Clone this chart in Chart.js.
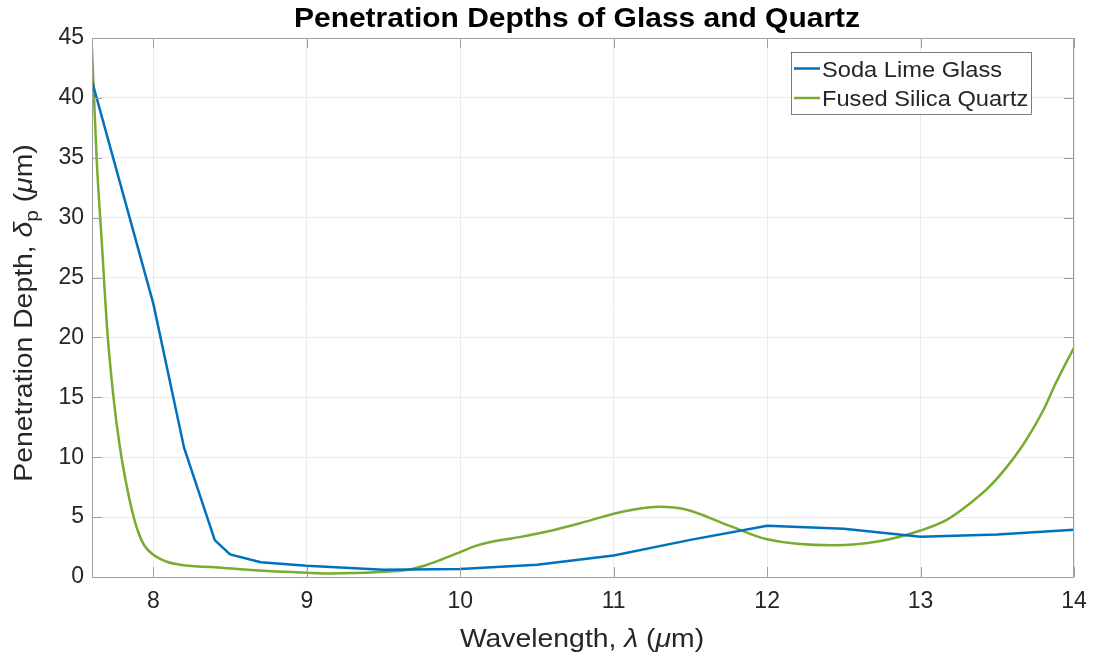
<!DOCTYPE html>
<html>
<head>
<meta charset="utf-8">
<script src="https://cdn.jsdelivr.net/npm/chart.js@4.4.1/dist/chart.umd.min.js"></script>
<style>
  html, body { margin: 0; padding: 0; background: #fff; }
  #wrap { width: 1099px; height: 658px; }
</style>
</head>
<body>
<div id="wrap"><canvas id="depthChart" width="1099" height="658"></canvas></div>
<script>
// values
const sodaX = [7.6, 8.0, 8.2, 8.4, 8.5, 8.7, 9.0, 9.5, 10.0, 10.5, 11.0, 11.5, 12.0, 12.5, 13.0, 13.5, 14.0];
const sodaY = [41.4, 22.8, 10.8, 3.08, 1.89, 1.23, 0.93, 0.6, 0.66, 1.02, 1.8, 3.1, 4.28, 4.03, 3.37, 3.54, 3.94];

const quartzX = [7.6, 7.63, 7.665, 7.70, 7.74, 7.78, 7.82, 7.86, 7.90, 7.94, 8.0, 8.088, 8.198, 8.462, 8.637, 9.0, 9.15,
  9.476, 9.65, 9.76, 9.87, 10.0, 10.1, 10.2, 10.3, 10.385, 10.56, 10.775, 11.0, 11.1, 11.3, 11.47, 11.76, 12.0,
  12.43, 12.73, 13.0, 13.17, 13.34, 13.45, 13.57, 13.68, 13.80, 13.88, 14.0];
const quartzY = [44.1, 35.0, 27.7, 20.5, 15.0, 11.0, 8.0, 5.6, 3.8, 2.65, 1.85, 1.27, 0.99, 0.76, 0.59, 0.36, 0.30,
  0.42, 0.58, 0.92, 1.42, 2.08, 2.6, 2.93, 3.15, 3.33, 3.78, 4.47, 5.28, 5.56, 5.86, 5.64, 4.25, 3.15,
  2.65, 2.98, 3.88, 4.77, 6.33, 7.56, 9.32, 11.27, 13.92, 16.15, 19.16];

const xTicks = [8, 9, 10, 11, 12, 13, 14];
const yTicks = [0, 5, 10, 15, 20, 25, 30, 35, 40, 45];

const seriesNames = ['Soda Lime Glass', 'Fused Silica Quartz'];
const seriesColors = ['#0072BD', '#77AC30'];

const FONT = '"Liberation Sans", Arial, Helvetica, sans-serif';
const TEXT = '#262626';
const FRAME = '#a0a0a0';
const SX = 1.09; // matlab text runs a bit wider than arial

const toPoints = (xs, ys) => xs.map((x, i) => ({ x: x, y: ys[i] }));

function wideText(c, str, x, y, font, align, sx) {
  c.save();
  c.font = font;
  c.textBaseline = 'alphabetic';
  c.textAlign = 'left';
  const w = c.measureText(str).width * sx;
  let x0 = x;
  if (align === 'center') x0 = x - w / 2;
  c.translate(x0, y);
  c.scale(sx, 1);
  c.fillText(str, 0, 0);
  c.restore();
  return w;
}

// pieces: [text, font, dy]
function richText(c, pieces, cx, y) {
  const widths = pieces.map(p => { c.font = p[1]; return c.measureText(p[0]).width * SX; });
  let x = cx - widths.reduce((s, w) => s + w, 0) / 2;
  pieces.forEach((p, i) => {
    wideText(c, p[0], x, y + (p[2] || 0), p[1], 'left', SX);
    x += widths[i];
  });
}

const decor = {
  id: 'decor',
  afterDraw(chart) {
    const c = chart.ctx;
    const a = chart.chartArea;
    const xs = chart.scales.x, ys = chart.scales.y;
    c.save();
    c.strokeStyle = FRAME;
    c.lineWidth = 1;
    c.strokeRect(a.left + 0.5, a.top + 0.5, a.right - a.left - 1, a.bottom - a.top);
    c.beginPath();
    xTicks.forEach(v => {
      const px = Math.round(xs.getPixelForValue(v)) + 0.5;
      c.moveTo(px, a.bottom); c.lineTo(px, a.bottom - 10);
      c.moveTo(px, a.top); c.lineTo(px, a.top + 10);
    });
    yTicks.forEach(v => {
      const py = Math.round(ys.getPixelForValue(v)) + 0.5;
      c.moveTo(a.left, py); c.lineTo(a.left + 10, py);
      c.moveTo(a.right, py); c.lineTo(a.right - 10, py);
    });
    c.stroke();

    c.fillStyle = '#000';
    wideText(c, 'Penetration Depths of Glass and Quartz', 577, 27, 'bold 28px ' + FONT, 'center', 1.07);

    const big = '26px ' + FONT, ital = 'italic 26px ' + FONT, small = '19px ' + FONT;
    c.fillStyle = TEXT;
    richText(c, [['Wavelength, ', big], ['λ', ital], [' (', big], ['μ', ital], ['m)', big]], 582, 647);

    c.save();
    c.translate(32, 313);
    c.rotate(-Math.PI / 2);
    richText(c, [['Penetration Depth, ', big], ['δ', ital], ['p', small, 6], [' (', big], ['μ', ital], ['m)', big]], 0, 0);
    c.restore();

    // legend box
    const lx = 791, ly = 52, lw = 240, lh = 62;
    c.fillStyle = '#fff';
    c.fillRect(lx, ly, lw, lh);
    c.strokeStyle = '#262626';
    c.lineWidth = 0.6;
    c.strokeRect(lx + 0.5, ly + 0.5, lw, lh);
    seriesNames.forEach((name, i) => {
      const ry = 68.5 + i * 29.5;
      c.strokeStyle = seriesColors[i];
      c.lineWidth = 2.5;
      c.beginPath();
      c.moveTo(794, ry); c.lineTo(820, ry);
      c.stroke();
      c.fillStyle = TEXT;
      wideText(c, name, 822, ry + 8, '22px ' + FONT, 'left', 1.075);
    });
    c.restore();
  }
};

new Chart(document.getElementById('depthChart'), {
  type: 'line',
  data: {
    datasets: [
      {
        label: seriesNames[0],
        data: toPoints(sodaX, sodaY),
        borderColor: seriesColors[0],
        borderWidth: 2.5,
        pointRadius: 0,
        tension: 0
      },
      {
        label: seriesNames[1],
        data: toPoints(quartzX, quartzY),
        borderColor: seriesColors[1],
        borderWidth: 2.5,
        pointRadius: 0,
        cubicInterpolationMode: 'monotone'
      }
    ]
  },
  options: {
    responsive: false,
    animation: false,
    layout: { padding: { left: 0, right: 25, top: 38, bottom: 0 } },
    plugins: {
      legend: { display: false },
      tooltip: { enabled: false },
      title: { display: false }
    },
    scales: {
      x: {
        type: 'linear',
        min: 7.6,
        max: 14,
        afterBuildTicks: s => { s.ticks = xTicks.map(v => ({ value: v })); },
        afterFit: s => { s.height = 81; },
        grid: { color: '#ebebeb', drawTicks: false },
        border: { display: false },
        ticks: { color: TEXT, font: { family: FONT, size: 23 }, padding: 11 }
      },
      y: {
        min: 0,
        max: 45,
        afterBuildTicks: s => { s.ticks = yTicks.map(v => ({ value: v })); },
        afterFit: s => { s.width = 92; },
        grid: { color: '#ebebeb', drawTicks: false },
        border: { display: false },
        ticks: { color: TEXT, font: { family: FONT, size: 23 }, padding: 8 }
      }
    }
  },
  plugins: [decor]
});
</script>
</body>
</html>
